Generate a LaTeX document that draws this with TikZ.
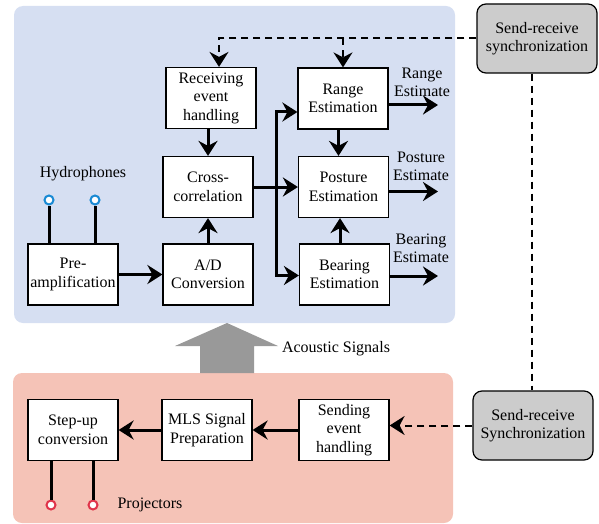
\documentclass[tikz,border=0pt]{standalone}
\usepackage{xcolor}
\definecolor{paleblue}{RGB}{214,223,242}
\definecolor{palered}{RGB}{245,195,183}
\definecolor{syncgray}{RGB}{204,204,204}
\definecolor{arrowgray}{RGB}{153,153,153}
\definecolor{phoneblue}{RGB}{26,138,212}
\definecolor{projred}{RGB}{224,52,74}
\usepackage{fontspec}
\setmainfont{Liberation Serif}
\usepackage{tikz}
\usetikzlibrary{arrows.meta}

\begin{document}
\begin{tikzpicture}[x=1pt,y=-1pt,>={Stealth[length=15pt,width=19pt,inset=5pt]},
        every node/.style={font=\rmfamily\fontsize{16}{18.5}\selectfont},
        blk/.style={draw,fill=white,line width=1.2pt,minimum width=90pt,minimum height=61pt,align=center,inner sep=0pt},
        syncbox/.style={draw,fill=syncgray,line width=1.2pt,rounded corners=9pt,minimum width=120pt,minimum height=69pt,align=center,inner sep=0pt},
        conn/.style={->,line width=3pt},
        dconn/.style={line width=2pt,dash pattern=on 7pt off 5pt},
        darr/.style={dconn,->},
        wire/.style={line width=3pt},
        jack/.style={circle,draw=#1,fill=white,line width=2pt,minimum size=9pt,inner sep=0pt}]
        \useasboundingbox (0,0) rectangle (599,524);
        \fill[paleblue,rounded corners=9pt] (14,6) rectangle (455,323);
        \fill[palered,rounded corners=9pt] (13,373) rectangle (453,523);
        \fill[arrowgray] (200,373) -- (200,346) -- (175,346) -- (227,323) -- (278,346) -- (254,346) -- (254,373) -- cycle;

        \node[blk] (recv) at (211,98) {Receiving\\event\\handling};
        \node[blk] (xcorr) at (208,187) {Cross-\\correlation};
        \node[blk] (preamp) at (73,274.5) {Pre-\\amplification};
        \node[blk] (adc) at (208,274.5) {A/D\\Conversion};
        \node[blk] (range) at (343,98.5) {Range\\Estimation};
        \node[blk] (posture) at (343.5,187) {Posture\\Estimation};
        \node[blk] (bearing) at (344.5,274.5) {Bearing\\Estimation};
        \node[syncbox] (syncA) at (537,38.5) {Send-receive\\synchronization};
        \node[syncbox] (syncB) at (533,425.5) {Send-receive\\Synchronization};
        \node[blk] (stepup) at (73,430) {Step-up\\conversion};
        \node[blk] (mls) at (207,430) {MLS Signal\\Preparation};
        \node[blk] (send) at (344,430) {Sending\\event\\handling};

        \node[align=center] (rlab) at (422,82.5) {Range\\Estimate};
        \node[align=center] (plab) at (421,166.5) {Posture\\Estimate};
        \node[align=center] (blab) at (421,248.5) {Bearing\\Estimate};
        \node (hlab) at (83,174) {Hydrophones};
        \node (prlab) at (150,505) {Projectors};
        \node (alab) at (336,349) {Acoustic Signals};

        \node[jack=phoneblue] (h1) at (49,200) {};
        \node[jack=phoneblue] (h2) at (95,200) {};
        \node[jack=projred] (p1) at (51,505) {};
        \node[jack=projred] (p2) at (93,505) {};
        \draw[wire] (h1) -- (h1 |- preamp.north);
        \draw[wire] (h2) -- (h2 |- preamp.north);
        \draw[wire] (p1) -- (p1 |- stepup.south);
        \draw[wire] (p2) -- (p2 |- stepup.south);

        \draw[conn] (preamp) -- (adc);
        \draw[conn] (adc) -- (xcorr);
        \draw[conn] (recv.south -| xcorr.north) -- (xcorr.north);
        \draw[conn] (xcorr) -- (posture);
        \coordinate (br) at (276,187);
        \draw[conn] (br) |- ([yshift=-13.5pt]range.west);
        \draw[conn] (br) |- ([yshift=-1pt]bearing.west);
        \draw[conn] ([xshift=-4.5pt]range.south) -- ([xshift=-4.5pt]range.south |- posture.north);
        \draw[conn] ([xshift=-4.5pt]bearing.north) -- ([xshift=-4.5pt]bearing.north |- posture.south);

        \coordinate (rOut) at (438,105);
        \coordinate (pOut) at (438,191.5);
        \coordinate (bOut) at (438,276);
        \draw[conn] (rOut -| range.east) -- (rOut);
        \draw[conn] (pOut -| posture.east) -- (pOut);
        \draw[conn] (bOut -| bearing.east) -- (bOut);

        \draw[darr] (syncA.west) -| ([xshift=8pt]recv.north);
        \draw[darr] (syncA.west -| range.north) -- (range.north);
        \draw[dconn] ([xshift=-5pt]syncA.south) -- ([xshift=-5pt]syncA.south |- syncB.north);
        \draw[darr] (syncB.west) -- (syncB.west -| send.east);

        \draw[conn] (send) -- (mls);
        \draw[conn] (mls) -- (stepup);
    \end{tikzpicture}
\end{document}
